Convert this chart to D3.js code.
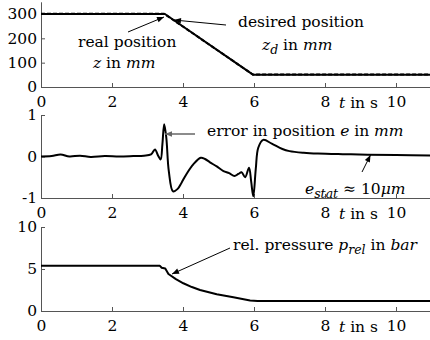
<!DOCTYPE html>
<meta charset="utf-8">
<style>
  body { margin: 0; background: #fff; }
  svg text { font-family: "DejaVu Serif", serif; font-size: 15.5px; }
  .axis path, .axis line { stroke: #555; stroke-width: 1; }
  .axis text { font-family: "DejaVu Serif", serif; font-size: 15.5px; fill: #000; }
  .curve { fill: none; stroke: #000; stroke-width: 2; stroke-linejoin: round; }
  .ann { fill: #000; }
</style>
<body>
<script src="https://d3js.org/d3.v7.min.js"></script>
<script>

// --- data ---
var timeTicks = [0, 2, 4, 6, 8, 10];

// position in mm
var posT = [0, 3.49, 5.98, 11];
var posReal = [300, 300, 50, 50];
var desT = [0, 3.47, 5.97, 11];
var desV = [301, 301, 51, 51];
var posTicks = [0, 100, 200, 300];

// error in position, mm
var errT = [0, 0.3, 0.55, 0.8, 1.1, 1.4, 1.8, 2.2, 2.6, 2.9, 3.1, 3.21, 3.3, 3.37, 3.42, 3.47, 3.53,
  3.6, 3.72, 3.85, 3.96, 4.1, 4.29, 4.5, 4.62, 4.76, 4.95, 5.14, 5.3, 5.45, 5.56, 5.65, 5.75,
  5.86, 5.92, 5.98, 6.05, 6.12, 6.26, 6.5, 6.8, 7.0, 7.4, 7.8, 8.5, 9.2, 10, 11];
var errV = [0, 0.01, 0.05, 0.0, 0.02, -0.01, 0.01, 0.0, 0.01, 0.02, 0.05, 0.17, 0.02, -0.07, 0.3, 0.78, 0.45,
  -0.35, -0.84, -0.78, -0.63, -0.42, -0.19, -0.03, -0.06, -0.14, -0.24, -0.35, -0.4, -0.47, -0.42, -0.38, -0.5,
  -0.27, -0.6, -0.96, -0.3, 0.21, 0.4, 0.31, 0.18, 0.13, 0.09, 0.07, 0.055, 0.045, 0.035, 0.025];
var errTicks = [-1, 0, 1];

// relative pressure, bar
var presT = [0, 3.35, 3.4, 3.5, 3.59, 3.8, 4.01, 4.25, 4.48, 4.95, 5.42, 5.89, 6.1, 11];
var presV = [5.38, 5.38, 5.15, 5.05, 4.4, 3.8, 3.3, 2.85, 2.5, 1.99, 1.63, 1.25, 1.2, 1.2];
var presTicks = [0, 5, 10];

var width = 430, height = 340;

var svg = d3.select("body").append("svg")
  .attr("width", width)
  .attr("height", height);

var defs = svg.append("defs");
function marker(id, color) {
  defs.append("marker")
    .attr("id", id)
    .attr("markerUnits", "userSpaceOnUse")
    .attr("viewBox", "0 -5 10 10")
    .attr("refX", 10).attr("refY", 0)
    .attr("markerWidth", 8).attr("markerHeight", 7)
    .attr("orient", "auto")
    .append("path")
      .attr("d", "M0,-4L10,0L0,4Z")
      .attr("fill", color);
}
marker("arrow", "#000");
marker("arrowGray", "#666");

var x = d3.scaleLinear().domain([0, 11]).range([41, 431.5]);

var panels = [
  { y: d3.scaleLinear().domain([0, 350]).range([87, 1.8]), ticks: posTicks },
  { y: d3.scaleLinear().domain([-1, 1]).range([198, 115]), ticks: errTicks },
  { y: d3.scaleLinear().domain([0, 10]).range([311, 227]), ticks: presTicks }
];

panels.forEach(function(p) {
  var base = p.y.range()[0];
  svg.append("g")
    .attr("class", "axis")
    .attr("transform", "translate(0," + base + ")")
    .call(d3.axisBottom(x).tickValues(timeTicks).tickSizeInner(-4).tickSizeOuter(0).tickPadding(8))
    .call(function(g) { g.selectAll(".tick line").attr("y2", -4); })
    .call(function(g) { g.selectAll("text").attr("y", 9).attr("dy", "0.71em"); });
  svg.append("g")
    .attr("class", "axis")
    .attr("transform", "translate(41,0)")
    .call(d3.axisLeft(p.y).tickValues(p.ticks).tickSizeInner(-4).tickSizeOuter(0).tickPadding(4)
      .tickFormat(function(d) { return String(d).replace("\u2212", "-"); }))
    .call(function(g) { g.selectAll("text").attr("x", -4); });

  // axis label t in s
  var t = svg.append("text").attr("class", "ann")
    .attr("x", 339).attr("y", base + 21);
  t.append("tspan").attr("font-style", "italic").text("t");
  t.append("tspan").text(" in s");
});

function line(y) {
  return d3.line().x(function(d) { return x(d[0]); }).y(function(d) { return y(d[1]); });
}

// panel 1: position
var y1 = panels[0].y;
svg.append("path").attr("class", "curve")
  .attr("d", line(y1)(d3.zip(posT, posReal)));
svg.append("path").attr("class", "curve")
  .attr("stroke-dasharray", "4,2")
  .attr("d", line(y1)(d3.zip(desT, desV)));

// panel 2: error
var y2 = panels[1].y;
svg.append("path").attr("class", "curve")
  .attr("d", line(y2).curve(d3.curveCatmullRom)(d3.zip(errT, errV)));

// panel 3: pressure
var y3 = panels[2].y;
svg.append("path").attr("class", "curve")
  .attr("d", line(y3)(d3.zip(presT, presV)));

// annotations
function arrow(x1, y1_, x2, y2_, color, w, m) {
  svg.append("line")
    .attr("x1", x1).attr("y1", y1_).attr("x2", x2).attr("y2", y2_)
    .attr("stroke", color).attr("stroke-width", w)
    .attr("marker-end", "url(#" + m + ")");
}
arrow(128, 32, 164, 17, "#000", 1, "arrow");
arrow(226, 25, 174, 20, "#000", 1, "arrow");
arrow(195, 134, 165, 134, "#666", 1.5, "arrowGray");
arrow(362, 172, 370.5, 155, "#000", 1, "arrow");
arrow(230, 248, 172, 274, "#000", 1, "arrow");

function rich(xp, yp, parts) {
  var t = svg.append("text").attr("class", "ann").attr("x", xp).attr("y", yp);
  parts.forEach(function(p) {
    var s = t.append("tspan").text(p[0]);
    if (p[1] === "i") s.attr("font-style", "italic");
    if (p[1] === "sub") s.attr("font-style", "italic").attr("font-size", "12.5px").attr("dy", 4);
    if (p[1] === "after") s.attr("dy", -4);
  });
  return t;
}

rich(238, 27, [["desired position"]]);
rich(262, 50, [["z", "i"], ["d", "sub"], [" in ", "after"], ["mm", "i"]]);
rich(78, 47, [["real position"]]);
rich(93, 68, [["z", "i"], [" in "], ["mm", "i"]]);
rich(207, 136, [["error in position "], ["e", "i"], [" in "], ["mm", "i"]]);
rich(305, 194, [["e", "i"], ["stat", "sub"], [" \u2248 10", "after"], ["\u03bcm", "i"]]);
rich(233, 250, [["rel. pressure "], ["p", "i"], ["rel", "sub"], [" in ", "after"], ["bar", "i"]]);

</script>
</body>
</html>
